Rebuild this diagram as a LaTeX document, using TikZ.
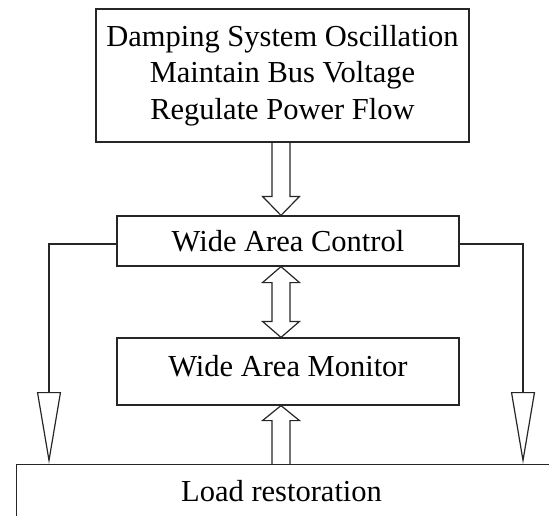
\documentclass[tikz,border=0pt]{standalone}
\usepackage{fontspec}
\setmainfont{Liberation Serif}
\usetikzlibrary{arrows.meta,calc}

\begin{document}
\begin{tikzpicture}[x=1pt,y=-1pt,line join=miter,
  font=\fontsize{30.5}{36.5}\selectfont,
  box/.style={draw=black!85,line width=1.2pt,inner sep=0pt,align=center},
  blk/.style={draw=black!85,line width=1.2pt},
  side/.style={draw=black!85,line width=1.2pt,-{Triangle[open,length=72pt,width=24pt]}}]
\clip (0,0) rectangle (549,515);
\node[box,minimum width=373pt,minimum height=133pt] (goal) at (282.5,75.5) {Damping System Oscillation\\Maintain Bus Voltage\\Regulate Power Flow};
\node[box,minimum width=342pt,minimum height=50pt] (wac) at (288,241) {Wide Area Control};
\node[box,minimum width=342pt,minimum height=67pt,text depth=12pt] (wam) at (288,371.5) {Wide Area Monitor};
\node[box,anchor=north west,minimum height=52pt] (load) at (16,464) {\makebox[530pt]{Load restoration}\hspace{90pt}};
\coordinate (ax) at (281,0);
% hollow block arrows
\draw[blk] let \p1=(ax |- goal.south), \p2=(ax |- wac.north) in
  (\x1-9pt,\y1) -- (\x1-9pt,\y2+19pt) -- (\x1-18.5pt,\y2+19pt) -- (\p2)
  -- (\x1+18.5pt,\y2+19pt) -- (\x1+9pt,\y2+19pt) -- (\x1+9pt,\y1);
\draw[blk] let \p1=(ax |- wac.south), \p2=(ax |- wam.north) in
  (\p1) -- (\x1+18.5pt,\y1-16pt) -- (\x1+9pt,\y1-16pt) -- (\x1+9pt,\y2+16pt)
  -- (\x1+18.5pt,\y2+16pt) -- (\p2) -- (\x1-18.5pt,\y2+16pt) -- (\x1-9pt,\y2+16pt)
  -- (\x1-9pt,\y1-16pt) -- (\x1-18.5pt,\y1-16pt) -- cycle;
\draw[blk] let \p1=(ax |- load.north), \p2=(ax |- wam.south) in
  (\x1-9pt,\y1) -- (\x1-9pt,\y2-15pt) -- (\x1-18.5pt,\y2-15pt) -- (\p2)
  -- (\x1+18.5pt,\y2-15pt) -- (\x1+9pt,\y2-15pt) -- (\x1+9pt,\y1);
% side connectors
\draw[side] ($(wac.west)+(0,3)$) -| ($(load.north west)+(33,0)$);
\draw[side] ($(wac.east)+(0,3)$) -| ($(load.north west)+(507,0)$);
\end{tikzpicture}
\end{document}
